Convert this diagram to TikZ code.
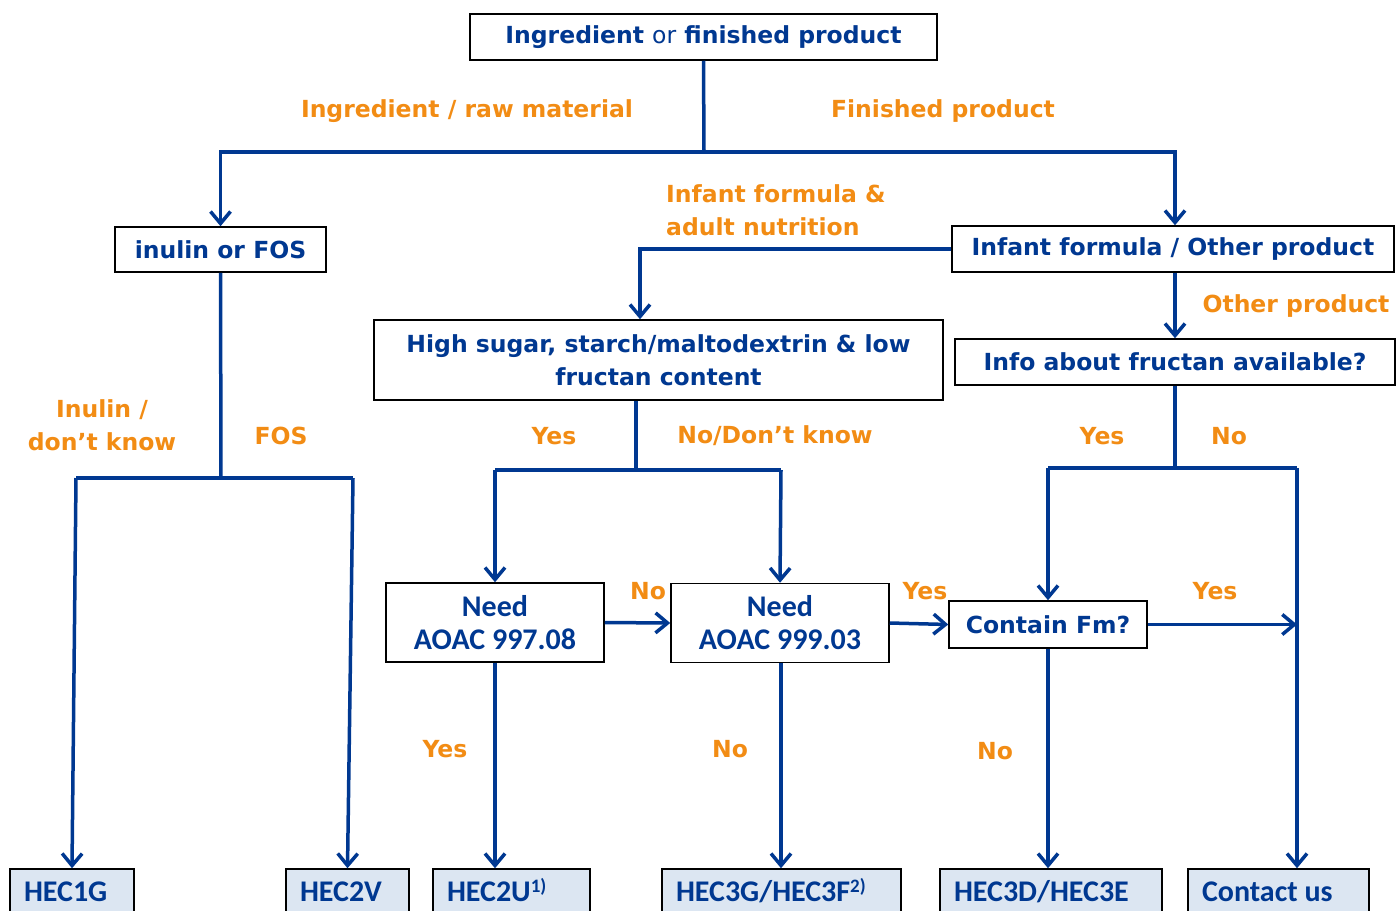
\documentclass[tikz,border=0pt]{standalone}
\usepackage{fontspec}
\setmainfont{DejaVu Sans}
\newfontfamily\calfont{Carlito}
\usepackage{tikz}
\usetikzlibrary{arrows.meta, positioning}
\definecolor{Azul}{RGB}{0, 56, 145}
\definecolor{Naranja}{RGB}{242, 140, 20}
\definecolor{Celeste}{RGB}{220, 230, 242}
\newcommand{\nota}[1]{\raisebox{9pt}{\calfont\bfseries\fontsize{19}{19}\selectfont #1}}

\begin{document}
\begin{tikzpicture}[x=1pt, y=-1pt,
        box/.style={rectangle, draw=black, line width=1.5pt, fill=white, inner sep=0pt, align=center, text=Azul, font=\fontsize{23.5}{33}\selectfont\bfseries},
        res/.style={box, fill=Celeste, minimum height=50, text height=20, text depth=6, font=\calfont\fontsize{30}{36}\selectfont\bfseries},
        need/.style={box, minimum width=218, minimum height=79, font=\calfont\fontsize{30}{33}\selectfont\bfseries},
        lbl/.style={inner sep=0pt, align=center, text=Naranja, font=\fontsize{23.5}{33}\selectfont\bfseries},
        flow/.style={draw=Azul, line width=3.5pt},
        arr/.style={flow, -{Straight Barb[length=12pt, width=20pt, line width=3.5pt]}}
    ]%
        \path[use as bounding box, clip] (0,0) rectangle (1396,910);
        % ================= CAJAS DE DECISION =================
        \node[box, minimum width=467, minimum height=46] (top) at (703.5,37) {Ingredient {\mdseries or} finished product};
        \node[box, minimum width=211, minimum height=45] (inulin) at (220.5,249.5) {inulin or FOS};
        \node[box, minimum width=442, minimum height=46] (infant) at (1173,249) {Infant formula / Other product};
        \node[box, minimum width=569, minimum height=80] (sugar) at (658.5,360) {High sugar, starch/maltodextrin \& low\\fructan content};
        \node[box, minimum width=440, minimum height=46] (info) at (1175,362) {Info about fructan available?};
        \node[need] (need1) at (495,622.5) {Need\\AOAC 997.08};
        \node[need] (need2) at (780,623) {Need\\AOAC 999.03};
        \node[box, minimum width=198, minimum height=47] (fm) at (1048,624.5) {Contain Fm?};
        % ================= RESULTADOS (FILA INFERIOR) =================
        \node[res, minimum width=124] (hec1g) at (72,894) {\makebox[96pt][l]{HEC1G}};
        \node[res, minimum width=123] (hec2v) at (347.5,894) {\makebox[95pt][l]{HEC2V}};
        \node[res, minimum width=157] (hec2u) at (511.5,894) {\makebox[129pt][l]{HEC2U\nota{1)}}};
        \node[res, minimum width=239] (hec3g) at (781.5,894) {\makebox[211pt][l]{HEC3G/HEC3F\nota{2)}}};
        \node[res, minimum width=222] (hec3d) at (1051,894) {\makebox[194pt][l]{HEC3D/HEC3E}};
        \node[res, minimum width=181] (contact) at (1278.5,894) {\makebox[153pt][l]{Contact us}};
        % ================= PUNTOS DE BIFURCACION =================
        \coordinate (s1) at (704,152);
        \coordinate (s2) at (221,478);
        \coordinate (s2l) at (76,478);
        \coordinate (s2r) at (353,478);
        \coordinate (s3) at (640,249);
        \coordinate (s4) at (636,470);
        \coordinate (s4l) at (495,470);
        \coordinate (s4r) at (781,470);
        \coordinate (s6) at (1175,468);
        \coordinate (s6l) at (1048,468);
        \coordinate (s6r) at (1297,468);
        % ================= CONEXIONES =================
        \draw[flow] (top.south) -- (s1);
        \draw[arr] (s1) -| (inulin.north);
        \draw[arr] (s1) -| (infant.north -| s6);
        % rama ingrediente
        \draw[flow] (inulin.south) -- (s2);
        \draw[flow] (s2l) -- (s2r);
        \draw[arr] (s2l) -- (hec1g.north);
        \draw[arr] (s2r) -- (hec2v.north);
        % rama producto terminado
        \draw[arr] (infant.west) -- (s3) -- (s3 |- sugar.north);
        \draw[arr] (infant.south -| s6) -- (info.north);
        \draw[flow] (s4 |- sugar.south) -- (s4);
        \draw[flow] (s4l) -- (s4r);
        \draw[arr] (s4l) -- (need1.north);
        \draw[arr] (s4r) -- (need2.north);
        \draw[flow] (info.south) -- (s6);
        \draw[flow] (s6l) -- (s6r);
        \draw[arr] (s6l) -- (fm.north);
        \draw[arr] (s6r) -- (s6r |- contact.north);
        % metodos AOAC
        \draw[arr] (need1.east) -- (need2.west);
        \draw[arr] (need2.east) -- (fm.west);
        \draw[arr] (fm.east) -- (fm.east -| s6r);
        \draw[arr] (need1.south) -- (need1.south |- hec2u.north);
        \draw[arr] (need2.south -| s4r) -- (s4r |- hec3g.north);
        \draw[arr] (fm.south) -- (fm.south |- hec3d.north);
        % ================= ETIQUETAS =================
        \node[lbl] (l1) at (467,111) {Ingredient / raw material};
        \node[lbl] (l2) at (943,111) {Finished product};
        \node[lbl] (l3) at (102,425) {Inulin /\\don’t know};
        \node[lbl] (l4) at (281,436) {FOS};
        \node[lbl, align=left, anchor=west] (l5) at (666,210) {Infant formula \&\\adult nutrition};
        \node[lbl] (l6) at (1296,306) {Other product};
        \node[lbl] (l7) at (554,436) {Yes};
        \node[lbl] (l8) at (775,436) {No/Don’t know};
        \node[lbl] (l9) at (1102,436) {Yes};
        \node[lbl] (l10) at (1229,436) {No};
        \node[lbl] (l11) at (648,591) {No};
        \node[lbl] (l12) at (925,591) {Yes};
        \node[lbl] (l13) at (1215,591) {Yes};
        \node[lbl] (l14) at (445,749) {Yes};
        \node[lbl] (l15) at (730,749) {No};
        \node[lbl] (l16) at (995,751) {No};
    \end{tikzpicture}
\end{document}
